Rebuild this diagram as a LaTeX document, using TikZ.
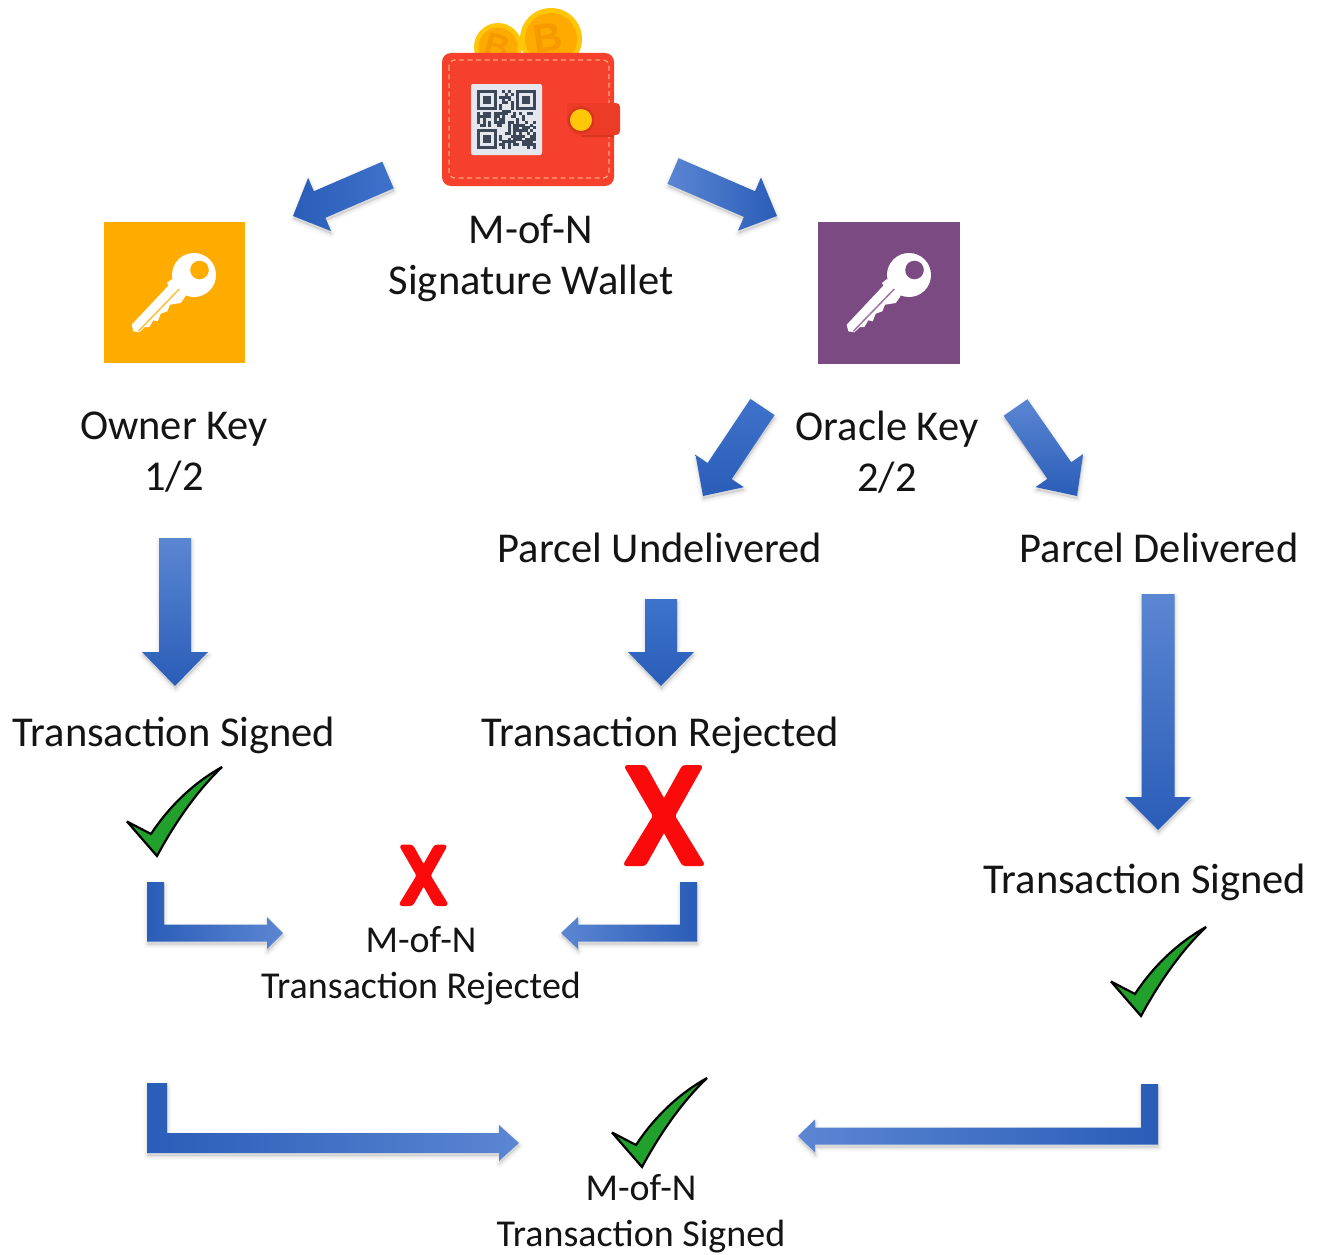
\documentclass[tikz,border=0pt]{standalone}
\usepackage{fontspec}
\setmainfont{Carlito}
\newfontfamily\coinfont{Liberation Sans}
\usetikzlibrary{calc}
\definecolor{arrowlight}{HTML}{5B86D2}
\definecolor{arrowmid}{HTML}{3F72CA}
\definecolor{arrowdark}{HTML}{2A5DB8}
\definecolor{keyorange}{HTML}{FFAB00}
\definecolor{keypurple}{HTML}{7C4A82}
\definecolor{walletred}{HTML}{F4402C}
\definecolor{walletdark}{HTML}{D9341F}
\definecolor{claspred}{HTML}{EC3B27}
\definecolor{stitch}{HTML}{FFA27A}
\definecolor{qrpaper}{HTML}{E4E8EE}
\definecolor{qrink}{HTML}{3E4757}
\definecolor{coinrim}{HTML}{FFC60A}
\definecolor{coinface}{HTML}{FFAA00}
\definecolor{coinmark}{HTML}{F79A00}
\definecolor{checkgreen}{HTML}{22A02C}
\definecolor{xred}{HTML}{FA0A0A}
\tikzset{
  bigtext/.style={font=\fontsize{42.5}{51}\selectfont,align=center,inner sep=0pt,text=black!92},
  smalltext/.style={font=\fontsize{38}{46}\selectfont,align=center,inner sep=0pt,text=black!92},
  keysquare/.style={minimum size=#1,inner sep=0pt,draw=none},
  pics/keyicon/.style={code={
    \fill[white] (0,0) circle (22);
    \fill[white] (-25.7,10.7) -- (-62.3,49.7) -- (-60.7,56.3) -- (-54.7,57.3) -- (-49,52) -- (-44.7,52) -- (-40.7,45.3) -- (-36.3,46.3) -- (-33.3,38.7) -- (-26.7,36.3) -- (-24,29.7) -- (-13.3,28) -- (-9,22) -- (0,0) -- cycle;
    \fill[white] (-27,8) -- (-22,4) -- (-16,12) -- (-24,14) -- cycle;
    \fill[#1] (5.5,-5) circle (9.3);
    \draw[#1!75!white,line width=1.5] (-14.7,14) -- (-55.7,56.3);
  }},
  pics/checkicon/.style={code={
    \draw[fill=checkgreen,draw=black,line width=2.2,line join=miter,miter limit=4]
      (0,-1) -- (-30,-35.5) -- (-6,-23)
      .. controls (13,-52) and (38,-75) .. (65,-90)
      .. controls (42,-68) and (20,-38) .. cycle;
  }},
  pics/xicon/.style={code={
    \fill[xred,draw=xred,line width=2,line join=round,rounded corners=2.5]
      (-38,-49) -- (-18,-49) -- (1,-15) -- (20,-49) -- (39,-49) -- (11,1) -- (41,50) -- (20,50) -- (1,16) -- (-18,50) -- (-39,50) -- (-9,1) -- cycle;
  }}
}
% straight block arrow from #1 to #2: half stem #3, half head #4, head length #5, shading #6
\newcommand{\arrowoutline}[5]{($(#1)!#3pt!90:(#2)$) -- ($(hb)!#3pt!90:(#2)$) -- ($(hb)!#4pt!90:(#2)$) -- (#2) -- ($(hb)!#4pt!-90:(#2)$) -- ($(hb)!#3pt!-90:(#2)$) -- ($(#1)!#3pt!-90:(#2)$) -- cycle}
\newcommand{\softshadow}[1]{%
  \foreach \w/\o in {8/.022,5/.03,2/.04}{%
    \path[transform canvas={shift={(0.5pt,-3pt)}},fill=black,fill opacity=\o,draw=black,draw opacity=\o,line width=\w,line join=round] #1;}%
}
\newcommand{\blockarrow}[6]{%
  \coordinate (hb) at ($(#2)!#5pt!(#1)$);
  \softshadow{\arrowoutline{#1}{#2}{#3}{#4}{#5}}
  \shade[#6] \arrowoutline{#1}{#2}{#3}{#4}{#5};
}
% elbow arrow from #1 down to the level of #2 and along to #2; #3 = +1/-1 direction
\newcommand{\elbowoutline}[6]{($(#1)+({-(#3)*#4},0)$) -- ($(#1)+({(#3)*#4},0)$) -- ($(#1|-#2)+({(#3)*#4},-#4)$) -- ($(#2)+({-(#3)*#6},-#4)$) -- ($(#2)+({-(#3)*#6},-#5)$) -- (#2) -- ($(#2)+({-(#3)*#6},#5)$) -- ($(#2)+({-(#3)*#6},#4)$) -- ($(#1|-#2)+({-(#3)*#4},#4)$) -- cycle}
\newcommand{\elbowarrow}[7]{%
  \softshadow{\elbowoutline{#1}{#2}{#3}{#4}{#5}{#6}}
  \shade[#7] \elbowoutline{#1}{#2}{#3}{#4}{#5}{#6};
}
\begin{document}
\begin{tikzpicture}[x=1pt,y=-1pt]
\useasboundingbox (0,0) rectangle (1317,1255);
\fill[white] (0,0) rectangle (1317,1255);

% ---- wallet ----
\fill[coinrim] (498,47) circle (24);
\fill[coinface] (498,47) circle (19.5);
\node[rotate=-15,font=\coinfont\bfseries\fontsize{34}{34}\selectfont,text=coinmark,inner sep=0pt] (coinB) at (497,46) {B};
\fill[coinrim] (551,39) circle (31);
\fill[coinface] (551,39) circle (26);
\node[rotate=8,font=\coinfont\bfseries\fontsize{40}{40}\selectfont,text=coinmark,inner sep=0pt] (coinA) at (548,38) {B};
\node[fill=walletred,rounded corners=9,minimum width=172,minimum height=133,inner sep=0pt] (wallet) at (528,119.5) {};
\draw[stitch,line width=1.3,dash pattern=on 5 off 3.5,rounded corners=6] (449,60) rectangle (609,178);
\fill[walletdark] (572,112) -- (614,112) -- (614,137) -- (582,137) -- cycle;
\fill[claspred,rounded corners=4] (567,103) -- (620,103) -- (620,135) -- (583,135) .. controls (573,135) and (567,127) .. (567,118) -- cycle;
\fill[walletdark] (581,120) circle (13.5);
\fill[coinrim] (581,120) circle (11);
\node[fill=qrpaper,rounded corners=2,minimum size=71,inner sep=0pt] (qr) at (506.5,119.5) {};
\begin{scope}[shift={(477,90)}]
  \pgfmathsetseed{4217}
  \foreach \i in {0,...,20}{\foreach \j in {0,...,20}{%
    \pgfmathsetmacro{\r}{rnd}
    \pgfmathparse{(\r>0.5 && !((\i<8&&\j<8)||(\i>12&&\j<8)||(\i<8&&\j>12)))?1:0}
    \ifnum\pgfmathresult=1
      \fill[qrink] (\i*2.8,\j*2.8) rectangle ++(2.9,2.9);
    \fi
  }}
  \foreach \a/\b in {0/0,39.2/0,0/39.2}{
    \draw[qrink,line width=2.8] (\a+1.4,\b+1.4) rectangle ++(16.8,16.8);
    \fill[qrink] (\a+5.6,\b+5.6) rectangle ++(8.4,8.4);
  }
\end{scope}

% ---- key squares ----
\node[keysquare=141,fill=keyorange] (ownerkey) at (174.5,292.5) {};
\pic at (194,275) {keyicon=keyorange};
\node[keysquare=142,fill=keypurple] (oraclekey) at (889,293) {};
\pic at (909,275) {keyicon=keypurple};

% ---- labels ----
\node[bigtext] (walletlabel) at (531,258) {M-of-N\\Signature Wallet};
\node[bigtext] (ownerlabel) at (174,452) {Owner Key\\1/2};
\node[bigtext] (oraclelabel) at (887,452) {Oracle Key\\2/2};
\node[bigtext] (undelivered) at (660,548) {Parcel Undelivered};
\node[bigtext] (delivered) at (1159,548) {Parcel Delivered};
\node[bigtext] (signedleft) at (174,735) {Transaction Signed};
\node[bigtext] (rejected) at (660,735) {Transaction Rejected};
\node[bigtext] (signedright) at (1145,882) {Transaction Signed};
\node[smalltext] (mnrejected) at (421,966) {M-of-N\\Transaction Rejected};
\node[smalltext] (mnsigned) at (641,1214) {M-of-N\\Transaction Signed};

% ---- marks ----
\pic at (157,857) {checkicon};
\pic at (1141,1017) {checkicon};
\pic at (642,1168) {checkicon};
\pic at (663,815) {xicon};
\pic[scale=0.6] at (423,875) {xicon};

% ---- arrow ends ----
\coordinate (a1s) at (388,175);   \coordinate (a1t) at (293,216);
\coordinate (a2s) at (673,171);   \coordinate (a2t) at (777,216);
\coordinate (a3s) at (762.5,407); \coordinate (a3t) at (703,496);
\coordinate (a4s) at (1015.5,407.5); \coordinate (a4t) at (1077,496);
\coordinate (a5s) at (175,538);   \coordinate (a5t) at (175,686);
\coordinate (a6s) at (661,599);   \coordinate (a6t) at (661,686);
\coordinate (a7s) at (1158,594);  \coordinate (a7t) at (1158,830);
\coordinate (e1s) at (155.5,882); \coordinate (e1t) at (283,933);
\coordinate (e2s) at (688.5,882); \coordinate (e2t) at (561,933);
\coordinate (e3s) at (157,1083);  \coordinate (e3t) at (519,1143);
\coordinate (e4s) at (1149.5,1084); \coordinate (e4t) at (798,1136);

% ---- arrows ----
\blockarrow{a1s}{a1t}{14.5}{29}{29}{left color=arrowdark,right color=arrowmid}
\blockarrow{a2s}{a2t}{14}{29}{30}{left color=arrowlight,right color=arrowdark}
\blockarrow{a3s}{a3t}{14.5}{29}{30}{top color=arrowmid,bottom color=arrowdark}
\blockarrow{a4s}{a4t}{14.5}{29}{31}{top color=arrowlight,bottom color=arrowdark}
\blockarrow{a5s}{a5t}{16}{33}{34}{top color=arrowlight,bottom color=arrowdark}
\blockarrow{a6s}{a6t}{16}{33}{34}{top color=arrowmid,bottom color=arrowdark}
\blockarrow{a7s}{a7t}{16.5}{33}{33}{top color=arrowlight,bottom color=arrowdark}
\elbowarrow{e1s}{e1t}{1}{8.5}{16}{16}{left color=arrowdark,right color=arrowlight}
\elbowarrow{e2s}{e2t}{-1}{8.5}{16}{17}{left color=arrowlight,right color=arrowdark}
\elbowarrow{e3s}{e3t}{1}{10}{18}{20}{left color=arrowdark,right color=arrowlight}
\elbowarrow{e4s}{e4t}{-1}{8.5}{16.5}{17}{left color=arrowlight,right color=arrowdark}
\end{tikzpicture}
\end{document}
